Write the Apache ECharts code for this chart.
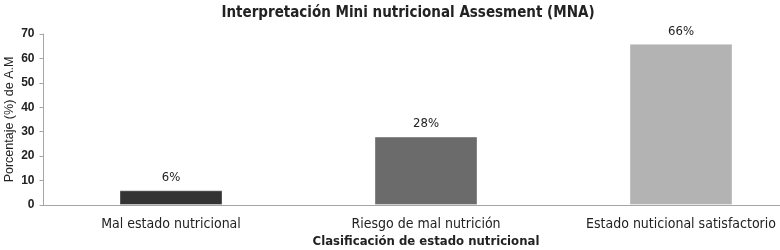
<!DOCTYPE html>
<html>
<head>
<meta charset="utf-8">
<script src="https://cdn.jsdelivr.net/npm/echarts@6/dist/echarts.min.js"></script>
<style>
  html, body { margin: 0; padding: 0; background: #fff; }
  #chart { width: 780px; height: 250px; }
</style>
</head>
<body>
<div id="chart"></div>
<script>
// datos
var categorias = ["Mal estado nutricional", "Riesgo de mal nutrición", "Estado nuticional satisfactorio"];
var porcentajes = [6, 28, 66];
var etiquetas = ["6%", "28%", "66%"];
var colores = ["#333333", "#6b6b6b", "#b3b3b3"];

var fuente = "'Liberation Sans Narrow', 'DejaVu Sans Condensed', sans-serif";

var chart = echarts.init(document.getElementById("chart"));
chart.setOption({
  animation: false,
  title: {
    text: "Interpretación Mini nutricional Assesment (MNA)",
    left: 403,
    textAlign: "center",
    top: 1,
    textStyle: { fontFamily: fuente, fontSize: 15, fontWeight: "bold", color: "#222" }
  },
  grid: { left: 43.5, right: -28.5, top: 34, bottom: 45, containLabel: false, outerBoundsMode: "none" },
  xAxis: {
    type: "category",
    data: categorias,
    name: "Clasificación de estado nutricional",
    nameLocation: "middle",
    nameGap: 30,
    nameMoveOverlap: false,
    nameTextStyle: { fontFamily: fuente, fontSize: 13, fontWeight: "bold", color: "#222" },
    axisLine: { lineStyle: { color: "#a6a6a6", width: 1 } },
    axisTick: { show: false },
    axisLabel: { fontFamily: fuente, fontSize: 14, color: "#222", margin: 12 }
  },
  yAxis: {
    type: "value",
    min: 0,
    max: 70,
    interval: 10,
    name: "Porcentaje (%) de A.M",
    nameLocation: "middle",
    nameGap: 27,
    nameMoveOverlap: false,
    nameTextStyle: { fontFamily: "'Liberation Sans', sans-serif", fontSize: 12.5, color: "#222" },
    axisLine: { show: true, lineStyle: { color: "#a6a6a6", width: 1 } },
    axisTick: { show: true, length: 4, lineStyle: { color: "#a6a6a6" } },
    axisLabel: { fontFamily: "'Liberation Sans', sans-serif", fontSize: 12, fontWeight: "bold", color: "#222", margin: 9 },
    splitLine: { show: false }
  },
  series: [{
    type: "bar",
    barWidth: 103,
    data: porcentajes.map(function (v, i) {
      return {
        value: v,
        itemStyle: { color: colores[i], borderColor: "rgba(255,255,255,0.35)", borderWidth: 1 }
      };
    }),
    label: {
      show: true,
      position: "top",
      distance: 6,
      fontFamily: fuente,
      fontSize: 13,
      color: "#222",
      formatter: function (p) { return etiquetas[p.dataIndex]; }
    }
  }]
});
</script>
</body>
</html>
